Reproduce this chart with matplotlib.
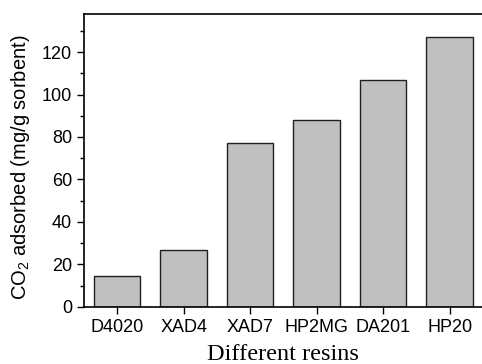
import matplotlib
matplotlib.use('Agg')
import matplotlib.pyplot as plt
import numpy as np
from matplotlib.ticker import MultipleLocator

resins = ['D4020', 'XAD4', 'XAD7', 'HP2MG', 'DA201', 'HP20']
co2_adsorbed = [14.6, 26.8, 77.3, 87.8, 106.8, 127.3]

fig = plt.figure(figsize=(4.82, 3.64), dpi=100)
ax = fig.add_axes([0.174, 0.157, 0.828, 0.805])

ind = np.arange(len(resins))
ax.bar(ind, co2_adsorbed, 0.7, color='#c0c0c0', edgecolor='#202020', linewidth=1.0)

ax.set_xlim(-0.5, 5.5)
ax.set_ylim(0, 138)
ax.yaxis.set_major_locator(MultipleLocator(20))
ax.yaxis.set_minor_locator(MultipleLocator(10))
ax.set_xticks(ind)
ax.set_xticklabels(resins, family='Liberation Sans', fontsize=13)
for lab in ax.get_yticklabels():
    lab.set_family('Liberation Sans')
    lab.set_fontsize(13)

ax.tick_params(axis='both', which='major', direction='out', length=5, width=1)
ax.tick_params(axis='y', which='minor', direction='out', length=3, width=1)
for s in ax.spines.values():
    s.set_linewidth(1.2)

ax.set_xlabel('Different resins', family='Liberation Serif', fontsize=17.5, labelpad=6)
ax.set_ylabel(r'CO$_\mathregular{2}$ adsorbed (mg/g sorbent)', family='Liberation Sans',
              fontsize=14.5)
ax.yaxis.set_label_coords(-0.13, 0.475)

fig.savefig('out.png', dpi=100)
